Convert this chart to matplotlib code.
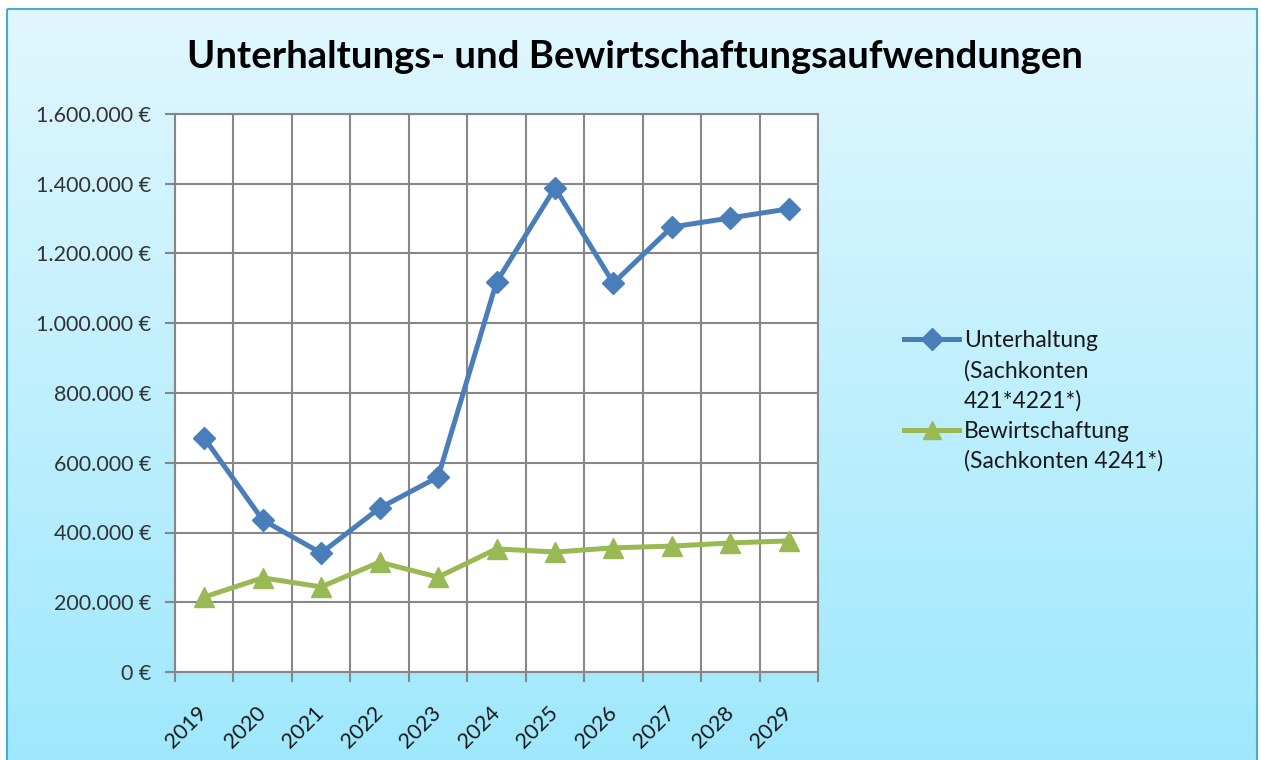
import numpy as np
import matplotlib
matplotlib.use("Agg")
import matplotlib.pyplot as plt
from matplotlib.lines import Line2D
from matplotlib.patches import Rectangle
from matplotlib.ticker import FuncFormatter

plt.rcParams['font.family'] = ['Lato', 'DejaVu Sans']

years = ["2019", "2020", "2021", "2022", "2023", "2024", "2025", "2026", "2027", "2028", "2029"]
unterhaltung = [671000, 436000, 341000, 470000, 559000, 1118000, 1388000, 1115000, 1276000, 1302000, 1328000]
bewirtschaftung = [215000, 270000, 244000, 315000, 272000, 353000, 344000, 356000, 361000, 370000, 376000]
legend_labels = ["Unterhaltung", "(Sachkonten", "421*4221*)", "Bewirtschaftung", "(Sachkonten 4241*)"]

W, H = 1261, 760
fig = plt.figure(figsize=(W / 100, H / 100), dpi=100)
fig.patch.set_facecolor("white")

# background gradient and frame
bg = fig.add_axes([0, 0, 1, 1])
bg.set_xlim(0, W)
bg.set_ylim(H, 0)
bg.axis("off")
top = np.array([0xE1, 0xF7, 0xFE]) / 255
bot = np.array([0x9F, 0xE8, 0xFC]) / 255
t = np.linspace(0, 1, 256)[:, None]
grad = (top[None, :] * (1 - t) + bot[None, :] * t)[:, None, :]
bg.imshow(grad, extent=[7, 1257, H, 9], aspect="auto", interpolation="bilinear")
bg.add_patch(Rectangle((7, 9), 1250, H, fill=False, edgecolor="#4BACC6", linewidth=1.5))

ax = fig.add_axes([175 / W, 88 / H, 643 / W, 558 / H])
ax.set_facecolor("white")
x = np.arange(len(years))

ax.plot(x, unterhaltung, color="#4A7EBB", linewidth=3.6, marker="D", markersize=11, zorder=3)
ax.plot(x, bewirtschaftung, color="#98B954", linewidth=3.6, marker="^", markersize=14, zorder=3)

ax.set_xlim(-0.5, len(years) - 0.5)
ax.set_ylim(0, 1600000)
ax.set_xticks(np.arange(-0.5, len(years), 1.0))
ax.set_xticklabels([])
ax.set_xticks(x, minor=True)
ax.set_xticklabels(years, minor=True, rotation=45, ha="right", va="center",
                   rotation_mode="anchor", fontsize=15.5, color="#1a1a1a")
ax.tick_params(axis="x", which="minor", length=0, pad=27)
ax.tick_params(axis="x", which="major", length=7, width=1.5, color="#868686")
ax.set_yticks(np.arange(0, 1600001, 200000))
ax.yaxis.set_major_formatter(FuncFormatter(lambda v, p: f"{int(v):,}".replace(",", ".") + " €"))
ax.tick_params(axis="y", length=7, width=1.5, color="#868686", labelsize=15.5,
               labelcolor="#333333", pad=10)
ax.grid(True, which="major", color="#878787", linewidth=1.5)
ax.set_axisbelow(True)
for s in ax.spines.values():
    s.set_color("#868686")
    s.set_linewidth(1.5)

fig.text(635 / W, 1 - 57 / H, "Unterhaltungs- und Bewirtschaftungsaufwendungen",
         ha="center", va="center", fontsize=27.5, fontweight="bold", color="black")

empty = Line2D([], [], linestyle="none")
handles = [Line2D([], [], color="#4A7EBB", linewidth=3.6, marker="D", markersize=11),
           empty, empty,
           Line2D([], [], color="#98B954", linewidth=3.6, marker="^", markersize=13),
           empty]
fig.legend(handles, legend_labels, loc="upper left", bbox_to_anchor=(893 / W, 1 - 319 / H),
           frameon=False, fontsize=16.5, handlelength=2.4, handletextpad=0.2,
           labelspacing=0.38, borderpad=0, labelcolor="#1a1a1a")

fig.savefig("out.png", dpi=100)
